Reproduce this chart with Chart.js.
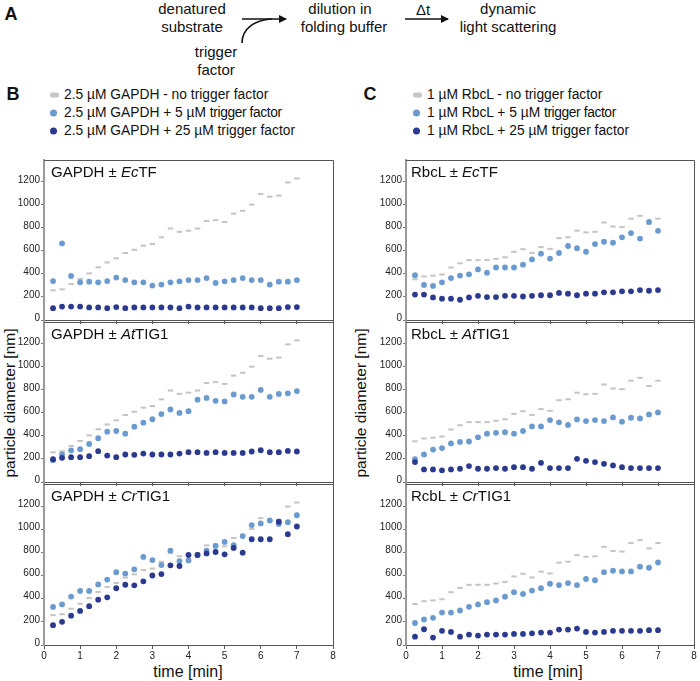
<!DOCTYPE html>
<html>
<head>
<meta charset="utf-8">
<script src="https://cdn.jsdelivr.net/npm/chart.js@4.4.1/dist/chart.umd.min.js"></script>
<style>
  body { margin: 0; background: #fff; font-family: Arial, "Liberation Sans", Helvetica, sans-serif; color: #111; }
  #page { position: relative; width: 700px; height: 681px; overflow: hidden; }
  .t { position: absolute; white-space: nowrap; line-height: 1; }
  .c { transform: translate(-50%, -50%); }
  .panel-title { position: absolute; font-size: 15px; line-height: 1; white-space: nowrap; transform: translateY(-50%); }
  .letter { position: absolute; font-weight: bold; font-size: 18px; transform: translate(-50%, -50%); line-height: 1; }
  .legend { position: absolute; font-size: 13.8px; line-height: 18px; }
  .legend div { position: relative; padding-left: 14px; white-space: nowrap; }
  .legend span.m { position: absolute; left: 0; top: 50%; transform: translateY(-50%); }
  .dash { width: 9px; height: 5px; border-radius: 2px; background: #c6c6c6; }
  .dot { width: 7px; height: 7px; border-radius: 50%; }
  .ytitle { position: absolute; font-size: 15.5px; white-space: nowrap; transform: translate(-50%, -50%) rotate(-90deg); line-height: 1; }
  .xtitle { position: absolute; font-size: 16px; white-space: nowrap; transform: translate(-50%, -50%); line-height: 1; }
  canvas { position: absolute; }
</style>
</head>
<body>
<div id="page">
  <!-- A: Schema -->
  <div class="letter" style="left:11px;top:14px;">A</div>
  <div class="t c" style="left:192px;top:8px;font-size:15px;">denatured</div>
  <div class="t c" style="left:192px;top:26px;font-size:15px;">substrate</div>
  <div class="t c" style="left:216px;top:51px;font-size:15px;">trigger</div>
  <div class="t c" style="left:216px;top:69px;font-size:15px;">factor</div>
  <div class="t c" style="left:340px;top:8px;font-size:15px;">dilution in</div>
  <div class="t c" style="left:344px;top:26px;font-size:15px;">folding buffer</div>
  <div class="t c" style="left:423px;top:9px;font-size:15px;">Δt</div>
  <div class="t c" style="left:508px;top:8px;font-size:15px;">dynamic</div>
  <div class="t c" style="left:508px;top:26px;font-size:15px;">light scattering</div>
  <svg width="700" height="90" style="position:absolute;left:0;top:0;">
    <defs>
      <marker id="ah" markerWidth="8" markerHeight="8" refX="7" refY="4" orient="auto" markerUnits="userSpaceOnUse">
        <path d="M0,0 L8,4 L0,8 z" fill="#111"/>
      </marker>
    </defs>
    <line x1="242" y1="19" x2="286" y2="19" stroke="#111" stroke-width="1.6" marker-end="url(#ah)"/>
    <path d="M242,43 C242,29 254,20 272,19" fill="none" stroke="#111" stroke-width="1.6"/>
    <line x1="405" y1="19" x2="448" y2="19" stroke="#111" stroke-width="1.6" marker-end="url(#ah)"/>
  </svg>

  <!-- B / C legends -->
  <div class="letter" style="left:13px;top:94px;">B</div>
  <div class="legend" style="left:50px;top:86px;">
    <div><span class="m dash"></span>2.5 µM GAPDH - no trigger factor</div>
    <div><span class="m dot" style="background:#6a9ad0"></span>2.5 µM GAPDH + 5 µM <span style="letter-spacing:-0.4px">trigger factor</span></div>
    <div><span class="m dot" style="background:#2b3a8f"></span>2.5 µM GAPDH + 25 µM trigger factor</div>
  </div>
  <div class="letter" style="left:370px;top:94px;">C</div>
  <div class="legend" style="left:413px;top:86px;">
    <div><span class="m dash"></span>1 µM RbcL - no trigger factor</div>
    <div><span class="m dot" style="background:#6a9ad0"></span>1 µM RbcL + 5 µM <span style="letter-spacing:-0.4px">trigger factor</span></div>
    <div><span class="m dot" style="background:#2b3a8f"></span>1 µM RbcL + 25 µM trigger factor</div>
  </div>

  <div class="ytitle" style="left:10px;top:403px;">particle diameter [nm]</div>
  <div class="ytitle" style="left:361px;top:403px;">particle diameter [nm]</div>
  <div class="xtitle" style="left:188px;top:672px;">time [min]</div>
  <div class="xtitle" style="left:548px;top:672px;">time [min]</div>
</div>

<script>
// ------------------------------------------------------------------
// Data
// ------------------------------------------------------------------
const times = [0.25, 0.5, 0.75, 1, 1.25, 1.5, 1.75, 2, 2.25, 2.5, 2.75, 3, 3.25, 3.5,
               3.75, 4, 4.25, 4.5, 4.75, 5, 5.25, 5.5, 5.75, 6, 6.25, 6.5, 6.75, 7];

const xTicks = [0, 1, 2, 3, 4, 5, 6, 7, 8];
const yTicks = [0, 200, 400, 600, 800, 1000, 1200];

// GAPDH without trigger factor (same control in the three panels)
const gapdhControl = [258, 266, 313, 356, 405, 458, 500, 536, 582, 610, 646, 660, 718, 795,
                      766, 776, 795, 860, 868, 852, 924, 949, 1002, 1095, 1071, 1081, 1195, 1230];
const gapdhEcTF5   = [338, 665, 383, 327, 333, 327, 338, 369, 347, 327, 327, 299, 308, 327,
                      336, 347, 347, 364, 322, 336, 347, 364, 347, 347, 308, 333, 333, 347];
const gapdhEcTF25  = [103, 117, 117, 117, 109, 109, 103, 112, 103, 109, 109, 109, 109, 109,
                      103, 117, 109, 109, 109, 109, 109, 109, 109, 103, 103, 103, 112, 112];
const gapdhAtTIG5  = [190, 240, 275, 285, 330, 380, 437, 443, 420, 481, 515, 545, 590, 630,
                      600, 615, 715, 730, 705, 700, 760, 740, 740, 800, 740, 765, 770, 790];
const gapdhAtTIG25 = [198, 210, 216, 216, 224, 268, 230, 216, 239, 236, 247, 239, 239, 239,
                      247, 259, 259, 253, 259, 253, 253, 253, 265, 276, 259, 259, 270, 265];
const gapdhCrTIG5  = [329, 350, 418, 467, 467, 523, 565, 629, 617, 653, 760, 733, 690, 815,
                      725, 730, 775, 815, 855, 890, 862, 940, 1035, 1050, 1075, 1045, 1060, 1120];
const gapdhCrTIG25 = [171, 200, 253, 294, 335, 391, 412, 490, 520, 515, 550, 600, 612, 688,
                      682, 777, 777, 791, 803, 783, 838, 797, 913, 913, 913, 1064, 957, 1023];

// RbcL without trigger factor (same control in the three panels)
const rbclControl  = [354, 378, 385, 395, 456, 493, 520, 520, 520, 531, 545, 592, 615, 583,
                      633, 618, 711, 719, 776, 762, 766, 847, 812, 807, 880, 905, 834, 880];
const rbclEcTF5    = [389, 305, 296, 327, 364, 386, 397, 439, 411, 456, 456, 456, 481, 526,
                      576, 534, 582, 643, 624, 593, 660, 680, 671, 718, 755, 707, 853, 775];
const rbclEcTF25   = [221, 221, 196, 185, 185, 176, 196, 210, 199, 199, 210, 210, 204, 210,
                      215, 215, 235, 229, 215, 229, 229, 240, 240, 249, 249, 260, 254, 260];
const rbclAtTIG5   = [198, 239, 282, 295, 335, 348, 352, 388, 420, 427, 432, 420, 443, 483,
                      483, 538, 518, 495, 544, 529, 538, 529, 561, 524, 558, 552, 587, 604];
const rbclAtTIG25  = [173, 109, 109, 101, 109, 115, 138, 115, 115, 121, 115, 129, 129, 115,
                      167, 121, 121, 121, 201, 184, 173, 158, 144, 129, 121, 121, 121, 121];
const rbclCrTIG5   = [190, 220, 235, 280, 280, 298, 330, 350, 370, 385, 417, 456, 441, 470,
                      491, 529, 517, 535, 517, 570, 559, 629, 641, 635, 635, 676, 667, 713];
const rbclCrTIG25  = [72, 136, 64, 122, 113, 72, 90, 81, 90, 90, 90, 96, 96, 101,
                      107, 107, 133, 133, 142, 113, 107, 113, 122, 122, 122, 122, 128, 128];

// title: [before italic, italic, after italic]
const panels = [
  { col: 0, row: 0, title: ['GAPDH ± ', 'Ec', 'TF'],   control: gapdhControl, low: gapdhEcTF5,  high: gapdhEcTF25 },
  { col: 0, row: 1, title: ['GAPDH ± ', 'At', 'TIG1'], control: gapdhControl, low: gapdhAtTIG5, high: gapdhAtTIG25 },
  { col: 0, row: 2, title: ['GAPDH ± ', 'Cr', 'TIG1'], control: gapdhControl, low: gapdhCrTIG5, high: gapdhCrTIG25 },
  { col: 1, row: 0, title: ['RbcL ± ', 'Ec', 'TF'],    control: rbclControl,  low: rbclEcTF5,   high: rbclEcTF25 },
  { col: 1, row: 1, title: ['RbcL ± ', 'At', 'TIG1'],  control: rbclControl,  low: rbclAtTIG5,  high: rbclAtTIG25 },
  { col: 1, row: 2, title: ['RcbL ± ', 'Cr', 'TIG1'],  control: rbclControl,  low: rbclCrTIG5,  high: rbclCrTIG25 },
];

// ------------------------------------------------------------------
// Layout
// ------------------------------------------------------------------
const COLOR_CONTROL = '#c4c4c4';
const COLOR_LOW     = '#6a9ad0';
const COLOR_HIGH    = '#2b3a8f';
const FONT = 'Arial, "Liberation Sans", Helvetica, sans-serif';

const colLeft   = [0, 362];     // canvas left
const colWidth  = [340, 338];   // canvas width
const colPadR   = [7, 5];
const panelTop  = [159, 321, 483];
const panelH    = 162;
const padTop    = 6;
const Y_MAX     = 1390;

Chart.defaults.font.family = FONT;
Chart.defaults.color = '#222';

const framePlugin = {
  id: 'frame',
  afterDraw(chart) {
    const { ctx, chartArea: a } = chart;
    ctx.save();
    ctx.strokeStyle = '#555';
    ctx.lineWidth = 1;
    ctx.beginPath();
    ctx.moveTo(a.left, Math.round(a.top) + 0.5);
    ctx.lineTo(Math.round(a.right) + 0.5, Math.round(a.top) + 0.5);
    ctx.lineTo(Math.round(a.right) + 0.5, a.bottom);
    ctx.stroke();
    ctx.restore();
  },
};

const toPoints = arr => times.map((t, i) => ({ x: t, y: arr[i] }));

const page = document.getElementById('page');

panels.forEach(p => {
  const isBottom = p.row === 2;
  const xAxisH = isBottom ? 20 : 6;
  const cv = document.createElement('canvas');
  const w = colWidth[p.col];
  const h = padTop + panelH + xAxisH;
  cv.width = w; cv.height = h;
  cv.style.left = colLeft[p.col] + 'px';
  cv.style.top  = (panelTop[p.row] - padTop) + 'px';
  cv.style.width = w + 'px'; cv.style.height = h + 'px';
  page.appendChild(cv);

  // panel title
  const tt = document.createElement('div');
  tt.className = 'panel-title';
  tt.style.left = (p.col === 0 ? 51 : 411) + 'px';
  tt.style.top  = (panelTop[p.row] + 12) + 'px';
  tt.innerHTML = p.title[0] + '<i>' + p.title[1] + '</i>' + p.title[2];
  page.appendChild(tt);

  new Chart(cv, {
    type: 'scatter',
    data: {
      datasets: [
        { label: 'high', data: toPoints(p.high), pointStyle: 'circle', pointRadius: 2.9,
          backgroundColor: COLOR_HIGH, borderWidth: 0 },
        { label: 'low', data: toPoints(p.low), pointStyle: 'circle', pointRadius: 2.9,
          backgroundColor: COLOR_LOW, borderWidth: 0 },
        { label: 'control', data: toPoints(p.control), pointStyle: 'line', pointRadius: 2.7,
          borderColor: COLOR_CONTROL, backgroundColor: COLOR_CONTROL, borderWidth: 2 },
      ],
    },
    plugins: [framePlugin],
    options: {
      responsive: false,
      animation: false,
      events: [],
      layout: { padding: { top: padTop, right: colPadR[p.col], bottom: 0, left: 0 } },
      plugins: { legend: { display: false }, tooltip: { enabled: false } },
      scales: {
        x: {
          type: 'linear', min: 0, max: 8,
          afterBuildTicks: s => { s.ticks = xTicks.map(v => ({ value: v })); },
          afterFit: s => { s.height = xAxisH; },
          grid: { drawOnChartArea: false, drawTicks: true, tickLength: 4, color: '#555' },
          border: { display: true, color: '#555', width: 1 },
          ticks: { display: isBottom, padding: 1, font: { size: 10 }, color: '#222', maxRotation: 0,
                   callback: v => String(v) },
        },
        y: {
          type: 'linear', min: 0, max: Y_MAX,
          afterBuildTicks: s => { s.ticks = yTicks.map(v => ({ value: v })); },
          afterFit: s => { s.width = 44; },
          grid: { drawOnChartArea: false, drawTicks: true, tickLength: 3, color: '#777' },
          border: { display: true, color: '#9a9a9a', width: 2 },
          ticks: { padding: 1, font: { size: 10 }, color: '#222', labelOffset: -2,
                   callback: v => String(v) },
        },
      },
    },
  });
});
</script>
</body>
</html>
